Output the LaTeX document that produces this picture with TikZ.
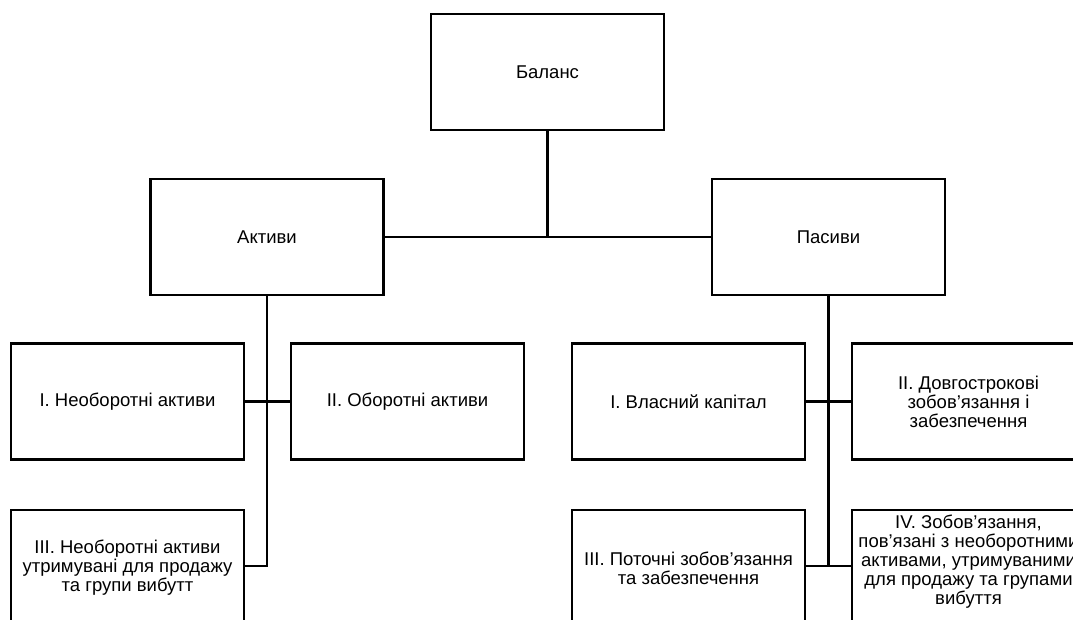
\documentclass[tikz,border=0pt]{standalone}
\usepackage{fontspec}
\setmainfont{Liberation Sans}
\begin{document}
\begin{tikzpicture}[x=1pt,y=-1pt,
  txt/.style={inner sep=0pt,align=center,font=\fontsize{18.5}{19}\selectfont},
  box/.style={txt,draw=black,line width=2.8pt,fill=white,minimum width=233pt,minimum height=116pt},
  link/.style={draw=black,line width=2.8pt}]
\useasboundingbox (0,0) rectangle (1073,619);
\clip (0,0) rectangle (1073,619);
\node[box] (bal) at (547.5,72) {Баланс};
\node[box] (akt) at (267,237) {Активи};
\node[box] (pas) at (828.5,237) {Пасиви};
\node[box] (n1) at (127.5,401.5) {I. Необоротні активи};
\node[box] (n2) at (407.5,401.5) {II. Оборотні активи};
\node[box] (n3) at (127.5,568) {III. Необоротні активи\\утримувані для продажу\\та групи вибутт};
\node[box] (p1) at (688.5,401.5) {I. Власний капітал};
\node[box] (p2) at (968.5,401.5) {II. Довгострокові\\зобов’язання і\\забезпечення};
\node[box] (p3) at (688.5,568) {III. Поточні зобов’язання\\та забезпечення};
\node[box,label={[txt,yshift=6pt]center:{IV. Зобов’язання,\\пов’язані з необоротними\\активами, утримуваними\\для продажу та групами\\вибуття}}] (p4) at (968.5,568) {};
\coordinate (j) at (bal.south |- akt.east);
\coordinate (la) at (akt.south |- 0,566);
\coordinate (lp) at (pas.south |- 0,566);
\coordinate (le) at (n3.east |- 0,566);
\coordinate (lq) at (p3.east |- 0,566);
\coordinate (lr) at (p4.west |- 0,566);
\draw[link] (akt.east) -- (pas.west);
\draw[link] (bal.south) -- (j);
\draw[link] (akt.south) -- (la) -- (le);
\draw[link] (n1.east) -- (n2.west);
\draw[link] (pas.south) -- (lp);
\draw[link] (p1.east) -- (p2.west);
\draw[link] (lq) -- (lr);
\end{tikzpicture}
\end{document}
